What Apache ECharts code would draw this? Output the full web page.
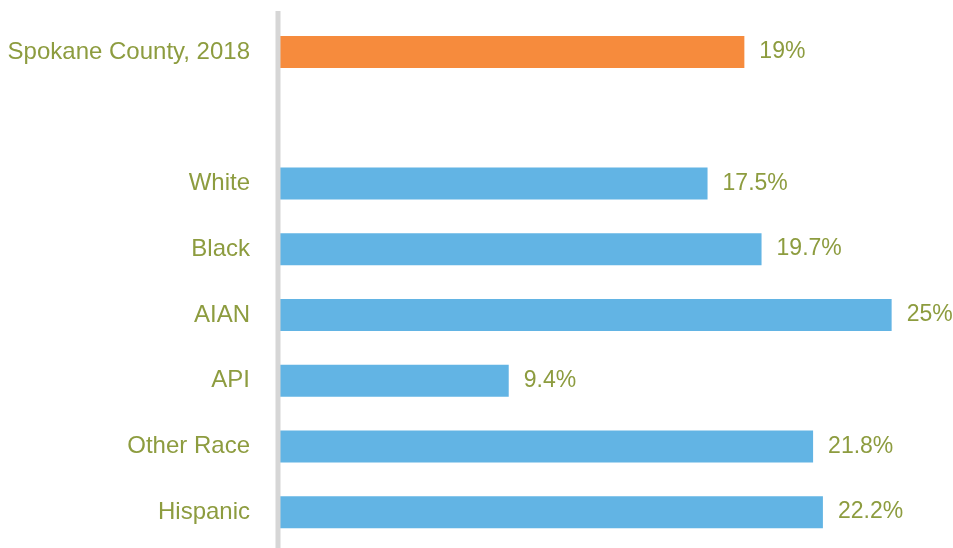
<!DOCTYPE html>
<html>
<head>
<meta charset="utf-8">
<script src="https://cdn.jsdelivr.net/npm/echarts@6/dist/echarts.min.js"></script>
<style>
  html, body { margin: 0; padding: 0; background: #fff; }
  #chart { width: 953px; height: 548px; }
</style>
</head>
<body>
<div id="chart"></div>
<script>
// rows top to bottom, '' is the spacer row
var categories = ['Spokane County, 2018', '', 'White', 'Black', 'AIAN', 'API', 'Other Race', 'Hispanic']
var values = [19, null, 17.5, 19.7, 25, 9.4, 21.8, 22.2]
var highlightRow = 'Spokane County, 2018'

var textColor = '#8d9c3f'
var chart = echarts.init(document.getElementById('chart'))

var barData = values.map(function (v, i) {
  return {
    value: v,
    itemStyle: { color: categories[i] === highlightRow ? '#f68b3d' : '#62b4e4' }
  }
})

chart.setOption({
  animation: false,
  grid: { left: 278, right: 0, top: 19, height: 526, containLabel: false },
  xAxis: {
    type: 'value',
    min: 0,
    max: 27.5,
    show: false
  },
  yAxis: {
    type: 'category',
    inverse: true,
    data: categories,
    axisLine: { show: false },
    axisTick: { show: false },
    axisLabel: {
      color: textColor,
      fontSize: 24,
      fontFamily: 'Liberation Sans, Arial, sans-serif',
      margin: 28,
      padding: [3, 0, 0, 0]
    }
  },
  graphic: [{
    type: 'line',
    shape: { x1: 278, y1: 11, x2: 278, y2: 548 },
    style: { stroke: '#d6d6d6', lineWidth: 5 },
    z: 100
  }],
  series: [{
    type: 'bar',
    data: barData,
    barWidth: 32,
    label: {
      show: true,
      position: 'right',
      distance: 15,
      color: textColor,
      fontSize: 23,
      fontFamily: 'Liberation Sans, Arial, sans-serif',
      formatter: function (p) { return p.value + '%' }
    }
  }]
})
</script>
</body>
</html>
